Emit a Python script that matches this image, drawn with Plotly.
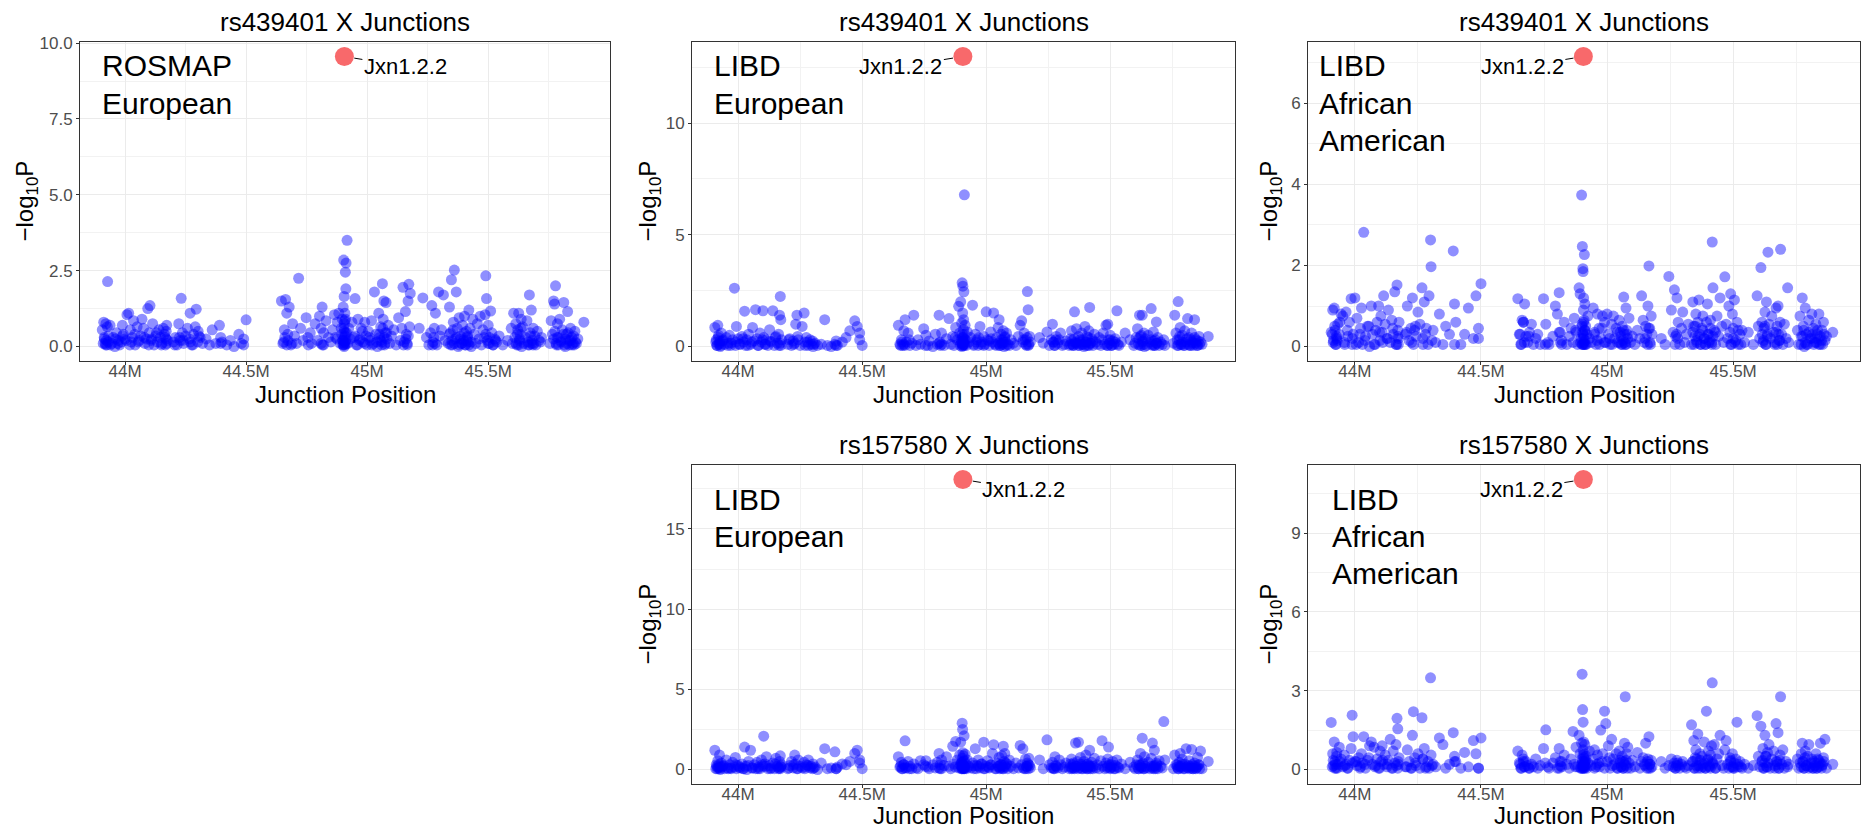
import plotly.graph_objects as go

# Junction start positions on chr19 (Mb), shared by every panel
junction_pos_mb = [
    43.906, 43.912, 43.915, 43.918, 43.921, 43.925, 43.928, 43.932, 43.938, 43.945,
    43.952, 43.958, 43.965, 43.972, 43.978, 43.985, 43.989, 43.993, 44.000, 44.008,
    44.015, 44.022, 44.026, 44.030, 44.035, 44.042, 44.050, 44.058, 44.065, 44.070,
    44.076, 44.082, 44.088, 44.094, 44.100, 44.103, 44.108, 44.114, 44.120, 44.127,
    44.133, 44.140, 44.146, 44.152, 44.158, 44.163, 44.167, 44.170, 44.172, 44.175,
    44.200, 44.208, 44.215, 44.222, 44.228, 44.232, 44.237, 44.242, 44.250, 44.258,
    44.266, 44.269, 44.275, 44.283, 44.290, 44.294, 44.300, 44.302, 44.310, 44.320,
    44.335, 44.349, 44.360, 44.375, 44.390, 44.395, 44.400, 44.420, 44.435, 44.450,
    44.470, 44.480, 44.490, 44.500, 44.646, 44.652, 44.658, 44.663, 44.668, 44.673,
    44.678, 44.685, 44.692, 44.700, 44.708, 44.717, 44.725, 44.735, 44.748, 44.757,
    44.765, 44.770, 44.785, 44.795, 44.803, 44.810, 44.814, 44.820, 44.830, 44.840,
    44.850, 44.857, 44.865, 44.870, 44.877, 44.883, 44.889, 44.893, 44.897, 44.899,
    44.901, 44.902, 44.903, 44.904, 44.905, 44.905, 44.906, 44.907, 44.908, 44.909,
    44.910, 44.911, 44.912, 44.913, 44.915, 44.917, 44.920, 44.924, 44.930, 44.937,
    44.945, 44.950, 44.956, 44.962, 44.968, 44.975, 44.982, 44.990, 44.995, 45.000,
    45.005, 45.012, 45.018, 45.025, 45.030, 45.036, 45.042, 45.048, 45.052, 45.056,
    45.060, 45.063, 45.066, 45.069, 45.072, 45.075, 45.078, 45.082, 45.087, 45.093,
    45.100, 45.110, 45.120, 45.130, 45.137, 45.143, 45.148, 45.153, 45.158, 45.162,
    45.166, 45.169, 45.172, 45.175, 45.178, 45.215, 45.230, 45.245, 45.255, 45.262,
    45.267, 45.272, 45.277, 45.282, 45.288, 45.295, 45.300, 45.307, 45.315, 45.322,
    45.335, 45.340, 45.344, 45.348, 45.352, 45.356, 45.360, 45.364, 45.368, 45.372,
    45.376, 45.380, 45.385, 45.390, 45.394, 45.398, 45.402, 45.406, 45.410, 45.414,
    45.417, 45.420, 45.425, 45.430, 45.436, 45.442, 45.448, 45.455, 45.462, 45.467,
    45.472, 45.478, 45.483, 45.487, 45.490, 45.493, 45.497, 45.500, 45.505, 45.510,
    45.515, 45.520, 45.527, 45.535, 45.545, 45.560, 45.580, 45.595, 45.600, 45.605,
    45.610, 45.614, 45.618, 45.622, 45.626, 45.629, 45.632, 45.636, 45.638, 45.642,
    45.647, 45.653, 45.660, 45.665, 45.670, 45.674, 45.678, 45.682, 45.686, 45.688,
    45.692, 45.697, 45.703, 45.710, 45.716, 45.720, 45.755, 45.760, 45.765, 45.770,
    45.774, 45.778, 45.782, 45.786, 45.790, 45.795, 45.800, 45.806, 45.812, 45.818,
    45.823, 45.828, 45.833, 45.840, 45.846, 45.852, 45.858, 45.864, 45.870, 45.895,
    43.910, 43.914, 43.920, 43.923, 43.927, 43.930, 43.940, 43.960, 43.970, 43.990,
    44.005, 44.020, 44.040, 44.055, 44.080, 44.098, 44.110, 44.130, 44.150, 44.165,
    44.170, 44.172, 44.205, 44.225, 44.240, 44.270, 44.280, 44.305, 44.395, 44.490,
    44.655, 44.660, 44.668, 44.672, 44.690, 44.755, 44.810, 44.815, 44.820, 44.875,
    44.895, 44.900, 44.901, 44.903, 44.905, 44.906, 44.907, 44.908, 44.910, 44.912,
    44.914, 44.950, 44.960, 44.970, 44.980, 44.990, 45.010, 45.020, 45.040, 45.050,
    45.055, 45.060, 45.065, 45.070, 45.075, 45.080, 45.150, 45.160, 45.165, 45.170,
    45.270, 45.275, 45.280, 45.340, 45.345, 45.350, 45.355, 45.360, 45.370, 45.380,
    45.385, 45.390, 45.400, 45.405, 45.410, 45.415, 45.420, 45.430, 45.490, 45.500,
    45.505, 45.520, 45.530, 45.615, 45.620, 45.625, 45.630, 45.635, 45.665, 45.670,
    45.675, 45.680, 45.685, 45.770, 45.775, 45.780, 45.785, 45.790, 45.800, 45.810,
    45.815, 45.820, 45.825, 45.830, 45.835, 45.840, 45.845, 45.850, 45.855, 45.860,
]

# -log10 P for rs439401, ROSMAP European
logp_rosmap_eur_rs439401 = [
    0.55, 0.80, 0.25, 0.10, 0.75, 0.05, 2.14, 0.35, 0.70, 0.10,
    0.30, 0.00, 0.45, 0.20, 0.05, 0.15, 0.70, 0.40, 0.25, 1.05,
    1.10, 0.55, 0.15, 0.30, 0.85, 0.05, 0.65, 0.20, 0.35, 0.90,
    0.60, 0.10, 0.25, 1.25, 0.45, 1.35, 0.20, 0.75, 0.05, 0.35,
    0.15, 0.55, 0.30, 0.10, 0.60, 0.40, 0.05, 0.25, 0.70, 0.20,
    0.15, 0.30, 0.05, 0.75, 0.20, 1.59, 0.45, 0.10, 0.35, 0.60,
    0.25, 1.10, 0.05, 0.40, 0.65, 1.23, 0.15, 0.50, 0.30, 0.10,
    0.25, 0.05, 0.55, 0.10, 0.70, 0.30, 0.15, 0.05, 0.20, 0.00,
    0.40, 0.10, 0.25, 0.88, 1.50, 0.10, 0.55, 1.55, 1.10, 0.20,
    1.30, 0.05, 0.75, 0.35, 0.10, 2.25, 0.60, 0.20, 0.95, 0.05,
    0.45, 0.10, 0.75, 0.20, 1.00, 0.60, 1.30, 0.05, 0.85, 0.30,
    0.15, 0.55, 1.05, 0.30, 0.80, 1.10, 0.10, 0.60, 0.90, 0.20,
    1.30, 0.05, 2.85, 0.50, 1.65, 0.00, 0.75, 0.15, 1.10, 0.35,
    2.45, 0.90, 1.90, 2.75, 0.45, 3.50, 0.10, 0.60, 0.25, 0.80,
    0.30, 1.58, 0.05, 0.90, 0.20, 0.60, 0.15, 0.80, 0.35, 0.05,
    0.50, 0.20, 0.85, 0.10, 1.80, 0.40, 0.00, 1.10, 0.30, 0.65,
    0.15, 2.07, 0.90, 1.50, 0.05, 0.45, 1.45, 0.25, 0.70, 0.10,
    0.35, 0.55, 0.05, 0.95, 0.20, 0.60, 1.95, 0.15, 1.15, 0.40,
    0.05, 1.50, 2.05, 0.65, 1.75, 0.60, 1.60, 0.30, 0.05, 0.45,
    1.35, 0.15, 0.60, 1.10, 0.05, 1.80, 0.35, 0.55, 1.70, 0.20,
    0.10, 1.30, 0.45, 2.20, 0.05, 0.80, 2.52, 0.25, 1.80, 0.60,
    0.00, 0.95, 0.35, 0.10, 0.70, 0.20, 1.00, 0.05, 0.50, 0.30,
    0.15, 1.20, 0.60, 0.00, 0.90, 0.40, 0.10, 0.75, 0.25, 1.00,
    0.05, 0.55, 0.30, 1.05, 2.33, 1.58, 0.20, 0.70, 0.10, 1.17,
    0.45, 0.05, 0.25, 0.15, 0.35, 0.05, 0.20, 0.60, 0.10, 1.10,
    0.30, 0.75, 0.05, 0.55, 1.10, 0.20, 0.40, 0.90, 0.00, 0.65,
    0.10, 0.30, 0.85, 0.05, 1.70, 0.45, 1.20, 0.20, 0.60, 0.10,
    0.35, 0.05, 0.50, 0.20, 0.15, 0.30, 0.10, 0.85, 0.40, 1.50,
    1.40, 2.00, 0.05, 0.75, 0.30, 0.90, 0.15, 0.55, 1.45, 0.00,
    0.40, 1.15, 0.20, 0.60, 0.05, 0.35, 0.50, 0.10, 0.25, 0.80,
    0.10, 0.30, 0.05, 0.20, 0.65, 0.15, 0.05, 0.25, 0.10, 0.35,
    0.20, 0.05, 0.40, 0.15, 0.30, 0.05, 0.25, 0.45, 0.05, 0.30,
    0.50, 0.10, 0.05, 0.30, 0.20, 0.15, 0.05, 0.35, 0.10, 0.05,
    0.15, 0.30, 0.05, 0.40, 0.10, 0.30, 0.10, 0.05, 0.45, 0.25,
    0.40, 0.05, 0.20, 0.60, 0.10, 0.30, 0.85, 0.05, 0.45, 0.20,
    0.10, 0.35, 0.05, 0.25, 0.50, 0.10, 0.30, 0.05, 0.15, 0.40,
    0.20, 0.05, 0.60, 0.30, 0.10, 0.45, 0.05, 0.25, 0.10, 0.35,
    0.05, 0.30, 0.10, 0.40, 0.05, 0.20, 0.55, 0.10, 0.30, 0.05,
    0.25, 0.10, 0.45, 0.05, 0.20, 0.35, 0.05, 0.15, 0.40, 0.10,
    0.30, 0.05, 0.20, 0.10, 0.40, 0.05, 0.25, 0.60, 0.15, 0.05,
    0.35, 0.10, 0.05, 0.25, 0.50, 0.10, 0.30, 0.05, 0.20, 0.40,
    0.05, 0.25, 0.10, 0.45, 0.05, 0.20, 0.30, 0.10, 0.05, 0.15,
]

# -log10 P for rs439401, LIBD European
logp_libd_eur_rs439401 = [
    0.85, 0.30, 0.05, 0.95, 0.50, 0.15, 0.00, 0.60, 0.25, 0.10,
    0.40, 0.05, 0.50, 0.15, 0.30, 2.61, 0.05, 0.90, 0.35, 0.10,
    0.45, 0.20, 1.58, 0.05, 0.30, 0.55, 0.10, 0.85, 0.25, 1.65,
    0.35, 0.05, 0.60, 0.20, 1.60, 0.40, 0.10, 0.30, 0.05, 0.75,
    0.20, 1.60, 0.05, 0.45, 0.15, 0.55, 1.40, 2.24, 1.20, 0.30,
    0.10, 0.35, 0.05, 0.25, 0.15, 1.00, 1.40, 0.30, 0.05, 0.90,
    1.50, 0.20, 0.40, 0.05, 0.30, 0.10, 0.25, 0.00, 0.15, 0.05,
    0.10, 1.20, 0.05, 0.00, 0.10, 0.25, 0.05, 0.20, 0.40, 0.70,
    1.15, 0.90, 0.60, 0.05, 0.95, 0.10, 0.30, 0.05, 0.70, 1.20,
    0.20, 0.60, 0.05, 0.15, 1.40, 0.05, 0.30, 0.10, 0.80, 0.50,
    0.05, 0.25, 0.00, 0.55, 0.10, 1.40, 0.20, 0.60, 0.05, 0.35,
    1.25, 0.10, 0.45, 0.05, 0.85, 0.30, 1.80, 0.60, 2.00, 0.15,
    1.05, 0.00, 2.85, 0.40, 1.50, 0.05, 2.70, 0.25, 0.75, 1.20,
    2.45, 0.10, 6.79, 0.55, 0.95, 0.30, 0.05, 0.65, 0.20, 0.40,
    1.85, 0.10, 0.55, 0.30, 0.05, 0.90, 0.20, 0.45, 0.10, 1.55,
    0.30, 0.05, 0.65, 0.20, 1.50, 0.10, 0.40, 0.85, 1.20, 0.05,
    0.55, 0.15, 0.30, 0.70, 0.00, 0.40, 0.20, 0.60, 0.10, 0.05,
    0.30, 0.15, 0.05, 0.45, 0.95, 1.15, 0.20, 0.60, 0.30, 0.05,
    2.46, 1.65, 0.10, 0.45, 0.20, 0.40, 0.15, 0.65, 0.05, 0.30,
    1.00, 0.20, 0.05, 0.45, 0.15, 0.30, 0.60, 0.05, 0.10, 0.25,
    0.05, 0.35, 0.70, 0.10, 0.05, 1.55, 0.20, 0.80, 0.15, 0.45,
    0.05, 0.30, 0.60, 0.10, 0.00, 0.90, 0.20, 0.45, 0.05, 0.70,
    1.75, 0.15, 0.35, 0.05, 0.55, 0.20, 0.10, 0.40, 0.05, 0.30,
    0.60, 0.10, 0.95, 0.05, 1.00, 0.30, 0.15, 0.50, 0.05, 0.25,
    0.10, 0.35, 1.60, 0.05, 0.20, 0.60, 0.30, 0.05, 0.15, 0.40,
    0.80, 0.10, 1.40, 0.45, 0.05, 1.40, 0.25, 0.60, 0.00, 0.35,
    0.05, 0.50, 0.20, 1.70, 0.10, 0.65, 0.05, 0.30, 1.10, 0.15,
    0.40, 0.05, 0.20, 0.10, 0.30, 0.05, 0.15, 1.40, 0.60, 0.05,
    2.01, 0.30, 0.85, 0.10, 0.50, 0.05, 0.70, 0.20, 1.25, 0.40,
    0.05, 0.60, 0.15, 1.20, 0.30, 0.05, 0.45, 0.20, 0.10, 0.45,
    0.20, 0.05, 0.40, 0.10, 0.25, 0.05, 0.30, 0.15, 0.05, 0.20,
    0.10, 0.35, 0.05, 0.20, 0.05, 0.30, 0.10, 0.25, 0.40, 0.05,
    0.15, 0.05, 0.30, 0.10, 0.45, 0.05, 0.20, 0.10, 0.05, 0.30,
    0.05, 0.20, 0.10, 0.05, 0.30, 0.05, 0.15, 0.05, 0.10, 0.40,
    0.05, 0.30, 0.15, 0.55, 0.05, 0.25, 0.40, 0.10, 0.20, 0.05,
    0.30, 0.05, 0.20, 0.40, 0.10, 0.05, 0.25, 0.35, 0.05, 0.15,
    0.05, 0.30, 0.10, 0.20, 0.45, 0.05, 0.30, 0.10, 0.40, 0.05,
    0.20, 0.05, 0.30, 0.10, 0.25, 0.05, 0.35, 0.15, 0.05, 0.20,
    0.10, 0.30, 0.05, 0.20, 0.40, 0.05, 0.15, 0.25, 0.05, 0.30,
    0.05, 0.20, 0.10, 0.35, 0.05, 0.50, 0.20, 0.10, 0.30, 0.05,
    0.25, 0.05, 0.15, 0.30, 0.05, 0.45, 0.10, 0.20, 0.05, 0.35,
    0.10, 0.05, 0.30, 0.20, 0.05, 0.40, 0.15, 0.05, 0.25, 0.10,
]

# -log10 P for rs439401, LIBD African American
logp_libd_aa_rs439401 = [
    0.35, 0.90, 0.15, 0.95, 0.40, 0.05, 0.20, 0.55, 0.30, 0.80,
    0.75, 0.10, 0.85, 0.25, 0.60, 1.18, 0.05, 0.30, 1.20, 0.70,
    0.10, 0.45, 0.95, 0.05, 2.82, 0.25, 0.50, 0.00, 1.00, 0.30,
    0.05, 0.40, 0.60, 1.00, 0.15, 0.75, 0.35, 1.25, 0.55, 0.20,
    0.90, 0.10, 0.65, 0.30, 1.35, 0.05, 1.52, 0.40, 0.20, 0.60,
    0.30, 1.00, 0.15, 0.45, 1.20, 0.05, 0.40, 0.25, 0.85, 0.55,
    1.45, 0.20, 1.10, 0.45, 0.05, 1.25, 2.63, 1.97, 0.40, 0.10,
    0.80, 0.05, 0.50, 0.30, 2.36, 1.05, 0.60, 0.05, 0.30, 0.95,
    0.20, 1.25, 0.45, 1.55, 1.18, 0.30, 0.05, 0.65, 0.60, 1.05,
    0.25, 0.10, 0.35, 0.55, 0.05, 0.20, 0.30, 0.05, 1.18, 0.55,
    0.10, 0.05, 0.25, 1.00, 0.80, 1.33, 0.35, 0.15, 0.60, 0.05,
    0.25, 0.45, 0.10, 0.70, 0.35, 0.05, 1.45, 1.30, 0.20, 3.74,
    0.55, 2.47, 0.05, 1.92, 0.30, 1.85, 0.90, 1.20, 0.10, 0.65,
    2.27, 0.40, 1.05, 0.15, 0.50, 0.05, 0.30, 0.75, 0.20, 0.10,
    0.95, 0.35, 0.05, 0.80, 0.45, 0.20, 0.75, 0.60, 0.10, 0.80,
    0.30, 0.05, 0.55, 0.75, 0.20, 0.45, 0.10, 0.65, 0.35, 0.05,
    0.50, 0.15, 1.22, 0.30, 0.05, 0.95, 0.40, 0.20, 0.70, 0.10,
    0.25, 0.05, 0.40, 0.20, 1.25, 0.65, 0.10, 0.50, 0.30, 1.00,
    1.99, 0.45, 0.05, 0.75, 0.30, 0.20, 0.05, 1.73, 0.90, 0.35,
    1.40, 0.25, 1.20, 0.60, 0.05, 0.45, 0.85, 0.10, 0.30, 0.55,
    0.05, 1.10, 0.50, 0.25, 0.80, 0.10, 0.60, 1.15, 0.30, 0.05,
    0.45, 0.75, 0.20, 0.05, 0.60, 1.05, 0.30, 0.15, 0.65, 0.10,
    2.58, 1.45, 0.40, 0.05, 0.75, 0.25, 1.20, 0.50, 0.10, 1.72,
    0.55, 0.20, 1.00, 0.35, 1.30, 0.05, 0.80, 0.45, 1.15, 0.15,
    0.60, 0.05, 0.30, 0.40, 0.10, 0.35, 0.05, 1.25, 0.50, 0.20,
    1.95, 0.60, 0.10, 0.45, 0.85, 0.05, 1.10, 0.30, 2.33, 0.55,
    0.20, 0.75, 0.35, 0.05, 0.95, 0.50, 1.00, 0.15, 0.60, 2.40,
    0.30, 0.05, 0.55, 0.20, 1.45, 0.10, 0.40, 0.05, 0.75, 0.25,
    1.20, 0.50, 0.00, 0.95, 0.30, 0.05, 0.65, 0.20, 0.80, 0.45,
    0.10, 0.55, 0.30, 0.80, 0.05, 0.40, 0.60, 0.15, 0.25, 0.35,
    0.30, 0.10, 0.50, 0.05, 0.25, 0.15, 0.60, 0.05, 0.40, 0.20,
    0.05, 0.30, 0.15, 0.50, 0.05, 0.35, 0.10, 0.20, 0.45, 0.05,
    0.25, 0.05, 0.35, 0.10, 0.50, 0.05, 0.30, 0.15, 0.05, 0.20,
    0.30, 0.05, 0.60, 0.10, 0.25, 0.05, 0.35, 0.10, 0.05, 0.40,
    0.10, 0.50, 0.05, 0.35, 0.20, 0.05, 0.60, 0.25, 0.05, 0.40,
    0.05, 0.30, 0.15, 0.05, 0.45, 0.10, 0.20, 0.05, 0.35, 0.10,
    0.25, 0.05, 0.40, 0.10, 0.05, 0.30, 0.20, 0.05, 0.45, 0.10,
    0.05, 0.30, 0.20, 0.35, 0.05, 0.50, 0.15, 0.25, 0.05, 0.40,
    0.20, 0.05, 0.30, 0.10, 0.45, 0.05, 0.25, 0.35, 0.05, 0.20,
    0.10, 0.40, 0.05, 0.30, 0.15, 0.50, 0.05, 0.25, 0.10, 0.35,
    0.05, 0.30, 0.15, 0.05, 0.25, 0.40, 0.10, 0.05, 0.35, 0.20,
    0.30, 0.05, 0.20, 0.10, 0.40, 0.05, 0.25, 0.15, 0.05, 0.30,
]

# -log10 P for rs157580, LIBD European
logp_libd_eur_rs157580 = [
    1.20, 0.30, 0.05, 0.55, 0.15, 0.90, 0.00, 0.40, 0.20, 0.05,
    0.60, 0.10, 0.30, 0.05, 0.45, 0.15, 0.75, 0.05, 0.25, 0.10,
    0.35, 0.05, 1.40, 0.20, 0.00, 0.50, 1.20, 0.10, 0.30, 0.05,
    0.45, 0.15, 0.05, 0.60, 0.20, 2.08, 0.35, 0.80, 0.05, 0.25,
    0.10, 0.40, 0.05, 0.70, 0.20, 0.05, 0.50, 0.85, 0.15, 0.30,
    0.05, 0.25, 0.50, 0.10, 0.90, 0.35, 0.05, 0.60, 0.20, 0.10,
    0.45, 0.05, 0.30, 0.60, 0.10, 0.20, 0.05, 0.35, 0.15, 0.00,
    0.40, 1.30, 0.05, 0.10, 1.10, 0.05, 0.15, 0.35, 0.30, 0.50,
    1.00, 1.20, 0.60, 0.05, 0.80, 0.15, 0.45, 0.05, 0.30, 1.79,
    0.10, 0.50, 0.20, 0.05, 0.35, 0.10, 0.05, 0.55, 0.30, 0.55,
    0.15, 0.05, 0.30, 0.10, 0.45, 1.00, 0.05, 0.60, 0.25, 0.80,
    0.20, 0.05, 1.45, 0.35, 1.75, 0.60, 0.10, 0.90, 1.70, 0.25,
    0.45, 0.05, 2.89, 0.70, 2.50, 0.10, 1.05, 0.30, 0.85, 0.20,
    0.05, 2.10, 0.55, 0.15, 0.95, 0.35, 0.05, 0.60, 0.20, 0.10,
    0.40, 0.05, 1.30, 0.25, 0.60, 0.10, 0.35, 1.70, 0.05, 0.20,
    0.55, 0.10, 0.30, 1.00, 1.55, 0.05, 0.40, 0.20, 0.75, 0.10,
    0.30, 0.85, 0.05, 1.45, 0.50, 1.00, 0.15, 0.35, 0.05, 0.60,
    0.20, 0.05, 0.40, 0.10, 1.50, 0.30, 1.30, 0.05, 0.65, 0.20,
    0.40, 0.05, 0.70, 0.25, 0.10, 0.60, 0.05, 1.85, 0.30, 0.10,
    0.45, 0.05, 0.80, 0.20, 0.10, 0.60, 0.30, 0.05, 0.15, 0.40,
    0.05, 0.35, 0.65, 0.10, 0.40, 0.05, 1.65, 0.20, 0.50, 1.70,
    0.10, 0.75, 0.30, 0.05, 0.50, 0.15, 0.90, 0.05, 0.35, 0.20,
    1.20, 0.05, 0.45, 0.20, 0.70, 0.10, 0.30, 0.05, 0.55, 1.80,
    0.20, 0.05, 0.40, 0.10, 0.65, 1.40, 0.30, 0.05, 0.15, 0.50,
    0.05, 0.25, 0.60, 0.10, 0.35, 0.05, 0.45, 0.15, 0.05, 0.30,
    0.60, 0.05, 0.30, 1.00, 0.15, 1.95, 0.40, 0.05, 0.80, 0.20,
    0.10, 0.45, 0.05, 0.70, 1.65, 0.20, 1.20, 0.05, 0.40, 0.30,
    0.05, 0.55, 0.20, 0.10, 2.99, 0.60, 0.05, 0.90, 0.30, 0.15,
    0.05, 0.45, 1.00, 0.20, 0.65, 0.05, 0.35, 1.30, 0.10, 0.55,
    0.20, 1.25, 0.05, 0.40, 0.10, 0.75, 0.30, 1.15, 0.05, 0.50,
    0.05, 0.20, 0.10, 0.30, 0.05, 0.15, 0.25, 0.05, 0.10, 0.30,
    0.15, 0.05, 0.25, 0.10, 0.05, 0.30, 0.20, 0.05, 0.35, 0.10,
    0.05, 0.20, 0.10, 0.30, 0.05, 0.15, 0.25, 0.10, 0.05, 0.40,
    0.20, 0.05, 0.30, 0.10, 0.05, 0.20, 0.10, 0.30, 0.05, 0.15,
    0.30, 0.05, 0.40, 0.15, 0.05, 0.25, 0.50, 0.10, 0.20, 0.05,
    0.10, 0.25, 0.05, 0.20, 0.35, 0.05, 0.15, 0.30, 0.05, 0.20,
    0.05, 0.30, 0.15, 0.05, 0.25, 0.40, 0.10, 0.05, 0.20, 0.30,
    0.10, 0.05, 0.25, 0.15, 0.05, 0.30, 0.10, 0.20, 0.05, 0.35,
    0.05, 0.20, 0.10, 0.30, 0.05, 0.25, 0.15, 0.05, 0.20, 0.10,
    0.30, 0.05, 0.15, 0.05, 0.25, 0.10, 0.35, 0.05, 0.20, 0.10,
    0.05, 0.25, 0.15, 0.30, 0.05, 0.20, 0.10, 0.35, 0.05, 0.15,
    0.25, 0.05, 0.10, 0.30, 0.05, 0.20, 0.05, 0.15, 0.30, 0.05,
]

# -log10 P for rs157580, LIBD African American
logp_libd_aa_rs157580 = [
    1.79, 0.60, 0.15, 1.05, 0.30, 0.05, 0.65, 0.20, 0.85, 0.40,
    0.10, 0.55, 0.20, 0.05, 0.35, 0.80, 2.07, 1.25, 0.30, 0.15,
    0.45, 0.10, 0.60, 0.25, 1.25, 0.05, 0.35, 0.90, 1.05, 0.20,
    0.85, 0.15, 0.40, 0.05, 0.70, 0.30, 0.90, 0.20, 0.55, 0.10,
    0.35, 1.15, 0.05, 0.70, 0.25, 0.95, 1.95, 1.55, 0.20, 0.45,
    0.10, 0.75, 0.30, 0.05, 1.30, 2.20, 0.45, 0.15, 0.60, 0.05,
    1.97, 0.40, 0.80, 0.10, 0.30, 0.05, 3.49, 0.55, 0.20, 0.10,
    1.20, 0.95, 0.05, 0.20, 1.40, 0.50, 0.30, 0.05, 0.65, 0.10,
    1.10, 0.60, 0.05, 1.20, 0.70, 0.25, 0.05, 0.55, 0.40, 0.10,
    0.30, 0.15, 0.05, 0.20, 0.10, 0.40, 0.05, 0.15, 0.80, 1.51,
    0.10, 0.05, 0.25, 0.45, 0.05, 0.80, 0.30, 0.10, 0.55, 0.20,
    0.05, 0.40, 1.45, 0.20, 0.85, 0.10, 1.30, 0.60, 0.05, 1.00,
    3.63, 0.30, 2.28, 0.05, 1.80, 0.75, 0.15, 1.05, 0.45, 0.20,
    0.60, 0.05, 0.95, 0.30, 0.10, 0.50, 0.05, 0.25, 0.70, 0.15,
    0.40, 0.75, 0.10, 0.55, 0.25, 1.50, 0.60, 2.22, 1.75, 0.30,
    0.90, 0.05, 1.15, 0.40, 0.20, 0.60, 0.05, 0.70, 0.35, 0.10,
    0.50, 0.05, 0.30, 1.00, 2.77, 0.15, 0.60, 0.85, 0.25, 0.05,
    0.35, 0.10, 0.65, 0.05, 0.30, 0.45, 0.20, 1.00, 0.05, 0.40,
    1.25, 0.20, 0.05, 0.35, 0.10, 0.30, 0.05, 0.15, 0.40, 0.10,
    0.25, 0.05, 0.35, 0.15, 0.05, 0.20, 0.30, 0.10, 0.05, 0.15,
    1.70, 0.30, 1.10, 0.05, 0.75, 0.40, 1.35, 0.15, 0.60, 0.05,
    0.50, 0.20, 1.05, 0.05, 2.22, 0.35, 0.70, 0.10, 0.55, 0.90,
    3.30, 0.25, 0.95, 0.05, 0.40, 0.60, 1.30, 0.15, 0.05, 0.75,
    1.10, 0.20, 0.05, 0.45, 0.30, 0.10, 0.60, 0.05, 0.25, 0.40,
    1.80, 0.10, 0.30, 0.05, 0.20, 0.05, 0.15, 2.05, 0.50, 0.10,
    1.65, 0.30, 0.80, 0.05, 1.30, 0.50, 0.10, 0.65, 0.25, 0.95,
    0.05, 0.40, 0.70, 0.15, 1.75, 0.30, 1.40, 0.05, 0.55, 2.77,
    0.20, 0.75, 0.05, 0.30, 0.10, 0.20, 0.40, 0.05, 0.25, 0.60,
    1.00, 0.30, 0.05, 0.70, 0.15, 0.50, 0.95, 0.10, 0.40, 0.05,
    0.25, 0.60, 0.05, 0.35, 1.00, 0.15, 0.45, 1.15, 0.05, 0.20,
    0.10, 0.35, 0.05, 0.20, 0.50, 0.05, 0.30, 0.15, 0.05, 0.25,
    0.30, 0.05, 0.20, 0.45, 0.10, 0.05, 0.35, 0.20, 0.05, 0.15,
    0.05, 0.30, 0.10, 0.05, 0.25, 0.40, 0.05, 0.15, 0.30, 0.05,
    0.20, 0.05, 0.30, 0.10, 0.05, 0.25, 0.05, 0.15, 0.30, 0.10,
    0.05, 0.40, 0.20, 0.05, 0.55, 0.10, 0.30, 0.05, 0.25, 0.15,
    0.35, 0.05, 0.20, 0.10, 0.30, 0.05, 0.45, 0.15, 0.05, 0.25,
    0.10, 0.30, 0.05, 0.20, 0.35, 0.05, 0.15, 0.30, 0.05, 0.20,
    0.05, 0.15, 0.25, 0.30, 0.05, 0.45, 0.15, 0.05, 0.35, 0.10,
    0.25, 0.05, 0.40, 0.15, 0.05, 0.30, 0.20, 0.05, 0.35, 0.10,
    0.05, 0.20, 0.10, 0.35, 0.05, 0.25, 0.50, 0.10, 0.05, 0.30,
    0.20, 0.05, 0.35, 0.10, 0.30, 0.05, 0.45, 0.15, 0.05, 0.25,
    0.05, 0.30, 0.15, 0.05, 0.40, 0.10, 0.25, 0.05, 0.20, 0.30,
]

# Lead junction (Jxn1.2.2) in each panel
lead_label = "Jxn1.2.2"
lead_pos_mb = 44.906
lead_logp = [9.56, 12.98, 7.16, 18.08, 11.04]

panel_titles = ["rs439401 X Junctions", "rs439401 X Junctions", "rs439401 X Junctions",
                "rs157580 X Junctions", "rs157580 X Junctions"]
panel_groups = [["ROSMAP", "European"], ["LIBD", "European"], ["LIBD", "African", "American"],
                ["LIBD", "European"], ["LIBD", "African", "American"]]
panel_logp = [logp_rosmap_eur_rs439401, logp_libd_eur_rs439401, logp_libd_aa_rs439401,
              logp_libd_eur_rs157580, logp_libd_aa_rs157580]
y_tick_step = [2.5, 5, 2, 5, 3]
y_tick_fmt = [".1f", "d", "d", "d", "d"]

x_tick_vals = [44.0, 44.5, 45.0, 45.5]
x_tick_text = ["44M", "44.5M", "45M", "45.5M"]

W, H = 1867, 829
FONT = "Liberation Sans, Arial, Helvetica, sans-serif"

# panel boxes in pixels: (left, right, top, bottom)
col_px = [(80, 610), (692, 1235), (1308, 1860)]
row_px = [(42, 361), (465, 784)]
xtitle_dy = [33, 31]                # x-axis title centre below each row's panels
cells = [(0, 0), (0, 1), (0, 2), (1, 1), (1, 2)]
label_dx = [61, -62, -61, 61, -62]
group_dx = [20, 20, 9, 20, 22]
group_dy = [24, 24, 24, 34, 34]     # centre of first label line below panel top
ytitle_dx = [54, 43, 38, 43, 38]
LINE_STEP = 37

fig = go.Figure()
layout = dict(
    width=W, height=H, margin=dict(l=0, r=0, t=0, b=0, autoexpand=False),
    paper_bgcolor="white", plot_bgcolor="white", showlegend=False,
    font=dict(family=FONT, color="black"),
)
annotations = []

for i, (row, col) in enumerate(cells):
    n = "" if i == 0 else str(i + 1)
    left, right = col_px[col]
    top, bottom = row_px[row]
    ymax = lead_logp[i]
    step = y_tick_step[i]

    fig.add_trace(go.Scatter(
        x=junction_pos_mb, y=panel_logp[i], mode="markers",
        marker=dict(color="rgb(0,0,255)", size=11, opacity=0.44, line=dict(width=0)),
        xaxis="x" + n, yaxis="y" + n, hoverinfo="skip",
    ))
    fig.add_trace(go.Scatter(
        x=[lead_pos_mb], y=[ymax], mode="markers",
        marker=dict(color="#F8696B", size=19, line=dict(width=0)),
        xaxis="x" + n, yaxis="y" + n, hoverinfo="skip",
    ))

    ticks = []
    v = 0.0
    while v <= ymax * 1.05 + 1e-9:
        ticks.append(v)
        v += step
    tick_text = [format(t, ".1f") if y_tick_fmt[i] == ".1f" else str(int(t)) for t in ticks]

    axis_common = dict(
        showline=True, linecolor="#333333", linewidth=1, mirror=True,
        ticks="outside", ticklen=3, tickcolor="#333333", tickwidth=1,
        showgrid=True, gridcolor="#EBEBEB", gridwidth=1.2, zeroline=False,
        tickfont=dict(family=FONT, size=17, color="#4D4D4D"),
    )
    layout["xaxis" + n] = dict(
        axis_common, domain=[left / W, right / W], anchor="y" + n,
        range=[43.814, 46.003], tickvals=x_tick_vals, ticktext=x_tick_text,
        ticklabelstandoff=-8,
        minor=dict(tickvals=[44.25, 44.75, 45.25, 45.75], showgrid=True,
                   gridcolor="#F2F2F2", gridwidth=0.8, ticks=""),
    )
    layout["yaxis" + n] = dict(
        axis_common, domain=[1 - bottom / H, 1 - top / H], anchor="x" + n,
        range=[-0.05 * ymax, 1.05 * ymax], tickvals=ticks, ticktext=tick_text,
        minor=dict(tickvals=[t + step / 2 for t in ticks], showgrid=True,
                   gridcolor="#F2F2F2", gridwidth=0.8, ticks=""),
    )

    cx = (left + right) / 2 / W
    # panel title
    annotations.append(dict(
        text=panel_titles[i], xref="paper", yref="paper", x=cx,
        y=1 - (top - 20) / H, xanchor="center", yanchor="middle", showarrow=False,
        font=dict(family=FONT, size=26, color="black"),
    ))
    # x-axis title
    annotations.append(dict(
        text="Junction Position", xref="paper", yref="paper", x=cx,
        y=1 - (bottom + xtitle_dy[row]) / H, xanchor="center", yanchor="middle",
        showarrow=False, font=dict(family=FONT, size=24, color="black"),
    ))
    # y-axis title
    annotations.append(dict(
        text="\u2212log<sub>10</sub>P", xref="paper", yref="paper",
        x=(left - ytitle_dx[i]) / W, y=1 - (top + bottom) / 2 / H, textangle=-90,
        xanchor="center", yanchor="middle", showarrow=False,
        font=dict(family=FONT, size=24, color="black"),
    ))
    # cohort / ancestry label, one annotation per line
    for k, line in enumerate(panel_groups[i]):
        annotations.append(dict(
            text=line, xref="paper", yref="paper",
            x=(left + group_dx[i]) / W, y=1 - (top + group_dy[i] + k * LINE_STEP) / H,
            xanchor="left", yanchor="middle", showarrow=False,
            font=dict(family=FONT, size=30, color="black"),
        ))
    # lead junction label with leader segment
    annotations.append(dict(
        text=lead_label, x=lead_pos_mb, y=ymax, xref="x" + n, yref="y" + n,
        showarrow=True, arrowhead=0, arrowwidth=1, arrowcolor="black",
        ax=label_dx[i], ay=10, standoff=10,
        font=dict(family=FONT, size=22, color="black"),
    ))

layout["annotations"] = annotations
fig.update_layout(**layout)
fig.write_html("out.html")
